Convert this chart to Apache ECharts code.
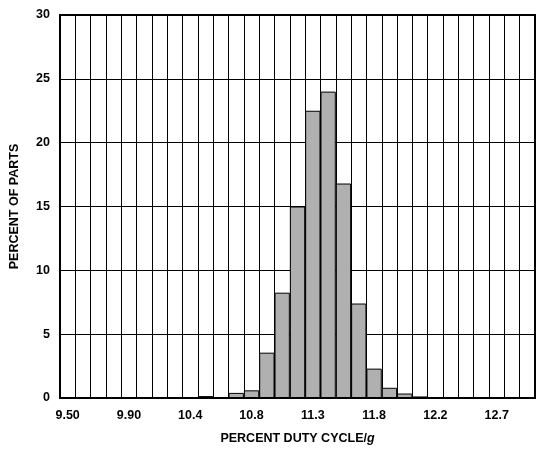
<!DOCTYPE html>
<html>
<head>
<meta charset="utf-8">
<script src="https://cdn.jsdelivr.net/npm/echarts@6/dist/echarts.min.js"></script>
<style>html,body{margin:0;padding:0;background:#fff}#main{width:538px;height:449px}</style>
</head>
<body>
<div id="main"></div>
<script>
// 31 bins; only every 4th bin carries a label
var tickLabels = ['9.50', '9.90', '10.4', '10.8', '11.3', '11.8', '12.2', '12.7'];
var percentParts = [0, 0, 0, 0, 0, 0, 0, 0, 0, 0.15, 0, 0.4, 0.6, 3.55, 8.25, 15, 22.5, 24, 16.8, 7.4, 2.3, 0.8, 0.35, 0.12, 0, 0, 0, 0, 0, 0, 0];

var categories = percentParts.map(function (v, i) {
  return i % 4 === 0 ? tickLabels[i / 4] : '';
});

var myChart = echarts.init(document.getElementById('main'));
var font = 'Liberation Sans, Arial, sans-serif';
myChart.setOption({
  animation: false,
  grid: { left: 60, right: 3, top: 15, bottom: 51, outerBoundsMode: 'none', containLabel: false },
  xAxis: {
    type: 'category',
    data: categories,
    boundaryGap: true,
    name: '{a|PERCENT DUTY CYCLE/}{b|g}',
    nameLocation: 'middle',
    nameGap: 34,
    nameTextStyle: {
      rich: {
        a: { fontFamily: font, fontWeight: 'bold', fontSize: 12.5, color: '#000' },
        b: { fontFamily: font, fontWeight: 'bold', fontStyle: 'italic', fontSize: 12.5, color: '#000' }
      }
    },
    axisLine: { lineStyle: { color: '#000', width: 2 } },
    axisTick: { show: false },
    axisLabel: { interval: 0, color: '#000', fontFamily: font, fontWeight: 'bold', fontSize: 12.5, margin: 11 },
    splitLine: { show: true, interval: 0, lineStyle: { color: '#000', width: 1 } }
  },
  yAxis: {
    type: 'value',
    min: 0,
    max: 30,
    interval: 5,
    name: 'PERCENT OF PARTS',
    nameLocation: 'middle',
    nameGap: 39,
    nameTextStyle: { fontFamily: font, fontWeight: 'bold', fontSize: 12.5, color: '#000' },
    axisLine: { show: true, lineStyle: { color: '#000', width: 2 } },
    axisTick: { show: false },
    axisLabel: { color: '#000', fontFamily: font, fontWeight: 'bold', fontSize: 12.5, margin: 10 },
    splitLine: { lineStyle: { color: '#000', width: 1 } }
  },
  series: [{
    type: 'bar',
    data: percentParts,
    barCategoryGap: 0,
    itemStyle: { color: '#b0b0b0', borderColor: '#000', borderWidth: 1 }
  }]
});
// frame on top and right
myChart.setOption({
  graphic: [{
    type: 'rect',
    shape: { x: 60, y: 15, width: 475, height: 383 },
    style: { fill: 'none', stroke: '#000', lineWidth: 2 },
    z: 100
  }]
});
</script>
</body>
</html>
